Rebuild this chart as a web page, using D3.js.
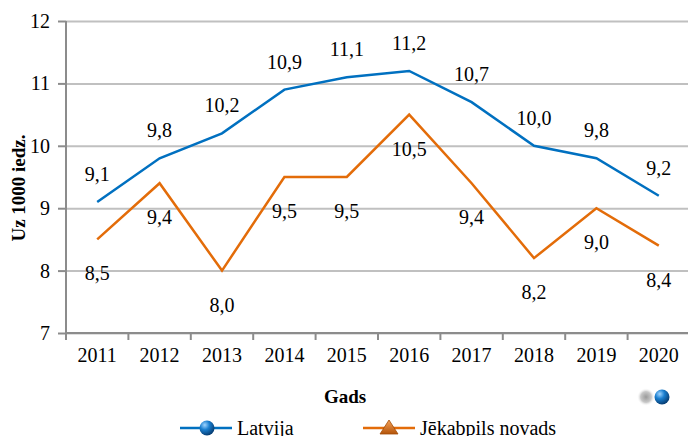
<!DOCTYPE html>
<html>
<head>
<meta charset="utf-8">
<script src="https://cdn.jsdelivr.net/npm/d3@7"></script>
<style>
  body { margin: 0; background: #fff; }
  svg { display: block; }
  svg text { font-family: "Liberation Serif", "Times New Roman", Times, "DejaVu Serif", serif; }
</style>
</head>
<body>
<div class="chart"></div>
<script>
const years = ["2011","2012","2013","2014","2015","2016","2017","2018","2019","2020"]
const latvija = [9.1, 9.8, 10.2, 10.9, 11.1, 11.2, 10.7, 10.0, 9.8, 9.2]
const jekabpils = [8.5, 9.4, 8.0, 9.5, 9.5, 10.5, 9.4, 8.2, 9.0, 8.4]
const yTicks = [7, 8, 9, 10, 11, 12]
const seriesNames = ["Latvija", "Jēkabpils novads"]

const w = 688, h = 436
const mLeft = 66, mRight = 690, mTop = 21, mBottom = 333
const blue = "#0070c0", orange = "#e36c09"
const serif = "Liberation Serif, Times New Roman, serif"
const fmt = v => d3.format(".1f")(v).replace(".", ",")

const x = d3.scaleBand().domain(years).range([mLeft, mRight])
const y = d3.scaleLinear().domain([7, 12]).range([mBottom, mTop])

const svg = d3.select(".chart").append("svg").attr("width", w).attr("height", h)
  .attr("font-family", serif)

// gradients for legend markers
const defs = svg.append("defs")
const gb = defs.append("radialGradient").attr("id","gBlue").attr("cx","35%").attr("cy","30%").attr("r","70%")
gb.append("stop").attr("offset","0%").attr("stop-color","#9fd4ff")
gb.append("stop").attr("offset","45%").attr("stop-color","#1a7fd0")
gb.append("stop").attr("offset","100%").attr("stop-color","#083f75")
const go = defs.append("linearGradient").attr("id","gOrange").attr("x1","0").attr("y1","0").attr("x2","0").attr("y2","1")
go.append("stop").attr("offset","0%").attr("stop-color","#f6a35a")
go.append("stop").attr("offset","100%").attr("stop-color","#b4540a")
const gg = defs.append("radialGradient").attr("id","gGrey")
gg.append("stop").attr("offset","0%").attr("stop-color","#9a9a9a")
gg.append("stop").attr("offset","60%").attr("stop-color","#c8c8c8")
gg.append("stop").attr("offset","100%").attr("stop-color","#fff").attr("stop-opacity",0)

// grid
svg.append("g")
  .attr("transform", `translate(${mLeft},0)`)
  .call(d3.axisLeft(y).tickValues(yTicks).tickSize(-(mRight - mLeft)).tickFormat(""))
  .call(g => g.select(".domain").remove())
  .call(g => g.selectAll("line").attr("stroke", "#c0c0c0").attr("stroke-width", 2))

// y axis
svg.append("g")
  .attr("transform", `translate(${mLeft},0)`)
  .call(d3.axisLeft(y).tickValues(yTicks).tickSize(8).tickPadding(8).tickFormat(d3.format("d")))
  .attr("font-family", serif)
  .call(g => g.select(".domain").attr("stroke", "#8c8c8c").attr("stroke-width", 2).attr("d", `M0,${mTop}V${mBottom}`))
  .call(g => g.selectAll("line").attr("stroke", "#8c8c8c").attr("stroke-width", 2))
  .call(g => g.selectAll("text").attr("font-size", 20).attr("fill", "#000"))

// x axis
const xg = svg.append("g")
  .attr("transform", `translate(0,${mBottom})`)
  .call(d3.axisBottom(x).tickSize(0).tickPadding(15))
  .attr("font-family", serif)
  .call(g => g.select(".domain").attr("stroke", "#8c8c8c").attr("stroke-width", 2).attr("d", `M${mLeft},0H${mRight}`))
  .call(g => g.selectAll("text").attr("font-size", 20).attr("fill", "#000"))
xg.selectAll(".bound")
  .data(years.map(d => x(d)).concat([mRight]))
  .enter().append("line")
  .attr("x1", d => d).attr("x2", d => d)
  .attr("y1", 0).attr("y2", 7)
  .attr("stroke", "#8c8c8c").attr("stroke-width", 2)

// lines
const line = d3.line().x((d, i) => x(years[i]) + x.bandwidth() / 2).y(d => y(d))
svg.append("path").datum(jekabpils).attr("d", line).attr("fill", "none").attr("stroke", orange).attr("stroke-width", 2.5)
svg.append("path").datum(latvija).attr("d", line).attr("fill", "none").attr("stroke", blue).attr("stroke-width", 2.5)

// data labels
const addLabels = (data, dy) => svg.append("g").selectAll("text")
  .data(data).enter().append("text")
  .attr("x", (d, i) => x(years[i]) + x.bandwidth() / 2)
  .attr("y", d => y(d) + dy)
  .attr("text-anchor", "middle")
  .attr("dominant-baseline", "central")
  .attr("font-size", 20)
  .text(fmt)
addLabels(latvija, -28)
addLabels(jekabpils, 34)

// axis titles
svg.append("text")
  .attr("transform", `translate(18,188) rotate(-90)`)
  .attr("text-anchor", "middle").attr("dominant-baseline", "central")
  .attr("font-size", 19).attr("font-weight", "bold")
  .text("Uz 1000 iedz.")
svg.append("text")
  .attr("x", 345).attr("y", 396)
  .attr("text-anchor", "middle").attr("dominant-baseline", "central")
  .attr("font-size", 19).attr("font-weight", "bold")
  .text("Gads")

// decorative spheres
svg.append("circle").attr("cx", 646).attr("cy", 397).attr("r", 9).attr("fill", "url(#gGrey)")
svg.append("circle").attr("cx", 662).attr("cy", 397).attr("r", 7.5).attr("fill", "url(#gBlue)")

// legend
const leg = svg.append("g").attr("transform", "translate(0,428)")
leg.append("line").attr("x1", 180).attr("x2", 232).attr("stroke", blue).attr("stroke-width", 2.5)
leg.append("circle").attr("cx", 207).attr("r", 7.5).attr("fill", "url(#gBlue)")
leg.append("text").attr("x", 237).attr("dominant-baseline", "central").attr("font-size", 20).text(seriesNames[0])
leg.append("line").attr("x1", 363).attr("x2", 415).attr("stroke", orange).attr("stroke-width", 2.5)
leg.append("path").attr("d", "M389,-8L398,6L380,6Z").attr("fill", "url(#gOrange)").attr("stroke", "#a24c08").attr("stroke-width", 0.8)
leg.append("text").attr("x", 420).attr("dominant-baseline", "central").attr("font-size", 20).text(seriesNames[1])
</script>
</body>
</html>
